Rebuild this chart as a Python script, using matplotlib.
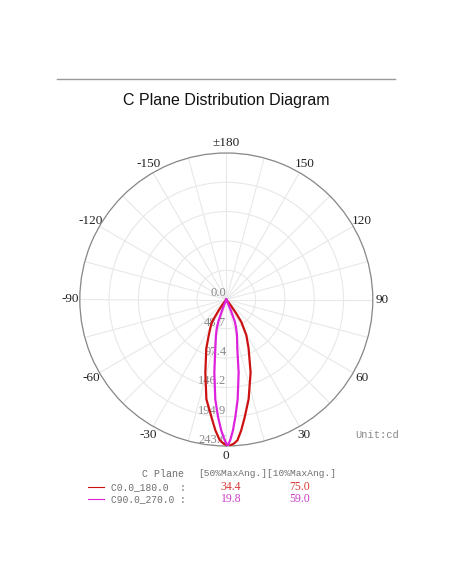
#C plane distribution diagram, polar plot
import numpy as np
import matplotlib
matplotlib.use("Agg")
import matplotlib.pyplot as plt
from matplotlib.lines import Line2D

# gamma angles (deg) and intensities (cd)
gamma_c0 = [-90, -40, -37, -35, -32.6, -30, -26.2, -22.2, -16, -11.3, -7.2, -4.8, -2.7, -1,
            1, 3, 4.5, 6.5, 8.9, 12.6, 18.4, 24.6, 29.3, 33.8, 35.5, 37.5, 40, 90]
cd_c0 = [0, 0, 8, 22, 44, 52, 66, 88, 126.5, 169, 197, 218, 234, 240,
         243.6, 240, 235, 219, 198, 170, 128, 89, 68, 45, 28, 10, 0, 0]

gamma_c90 = [-90, -24, -22, -21, -20, -18, -16.1, -12.7, -9.3, -6.3, -4, -2.2, -0.65,
             0.5, 1.6, 2.9, 4.4, 6.5, 9.6, 12.7, 16.7, 19, 21, 22.4, 23.5, 26, 90]
cd_c90 = [0, 0, 8, 20, 38, 52, 62, 83, 123, 167, 196, 218, 234,
          243.6, 234, 218, 196, 167, 123, 83, 62, 50, 40, 20, 8, 0, 0]

r_ticks = [48.7, 97.4, 146.2, 194.9, 243.6]
r_labels = ["0.0", "48.7", "97.4", "146.2", "194.9", "243.6"]
ang_ticks = [0, 30, 60, 90, 120, 150, 180, 210, 240, 270, 300, 330]
ang_labels = ["0", "30", "60", "90", "120", "150", "\u00b1180", "-150", "-120", "-90", "-60", "-30"]

planes = ["C0.0_180.0  :", "C90.0_270.0 :"]
ang50 = ["34.4", "19.8"]
ang10 = ["75.0", "59.0"]
line_cols = ["#cc1111", "#dd22dd"]
text_cols = ["#d83838", "#c83cc8"]

W, H = 452, 584
fig = plt.figure(figsize=(W / 100, H / 100), dpi=100)
fig.patch.set_facecolor("white")

def fx(x):
    return x / W

def fy(y):
    return 1 - y / H

# top rule and title
fig.add_artist(Line2D([fx(57), fx(395)], [fy(79), fy(79)], color="#999999", lw=1))
fig.text(fx(226), fy(100), "C Plane Distribution Diagram", ha="center", va="center",
         fontsize=11.5, family="Liberation Sans", color="#111111")

cx, cy, R = 226.3, 299.5, 146.5
ax = fig.add_axes([fx(cx - R), fy(cy + R), 2 * R / W, 2 * R / H], projection="polar")
ax.set_theta_zero_location("S")
ax.set_theta_direction(1)
ax.set_ylim(0, 243.6)

# spokes every 15 deg, labels every 30
spokes = list(range(0, 360, 15))
lab = []
for s in spokes:
    if s in ang_ticks:
        lab.append(ang_labels[ang_ticks.index(s)])
    else:
        lab.append("")
ax.set_xticks(np.radians(spokes))
ax.set_xticklabels(lab, family="Liberation Serif", fontsize=9.5, color="#222222")
ax.tick_params(axis="x", pad=0, length=0)
ax.set_yticks(r_ticks)
ax.set_yticklabels([])
ax.grid(color="#e8e8e8", lw=0.8)
ax.spines["polar"].set_color("#888888")
ax.spines["polar"].set_linewidth(0.9)

# radial value labels along the 0 direction
for i, t in enumerate(r_labels):
    r = 0 if i == 0 else r_ticks[i - 1]
    ax.text(0, r, t, ha="right", va="bottom", fontsize=9, family="Liberation Serif",
            color="#888888", zorder=2)

ax.plot(np.radians(gamma_c0), cd_c0, color=line_cols[0], lw=1.6, zorder=4)
ax.plot(np.radians(gamma_c90), cd_c90, color=line_cols[1], lw=1.6, zorder=5)

fig.text(fx(355), fy(435), "Unit:cd", ha="left", va="center", fontsize=7.5,
         family="Liberation Mono", color="#888888")

# legend table below
mono = "Liberation Mono"
fig.text(fx(142), fy(474), "C Plane", ha="left", va="center", fontsize=7.2, family=mono, color="#6e6e6e")
fig.text(fx(198), fy(474), "[50%MaxAng.][10%MaxAng.]", ha="left", va="center", fontsize=6.8,
         family=mono, color="#6e6e6e")
rows_y = [487, 499]
for i in range(2):
    y = rows_y[i]
    fig.add_artist(Line2D([fx(88), fx(104)], [fy(y), fy(y)], color=line_cols[i], lw=0.8))
    fig.text(fx(111), fy(y), planes[i], ha="left", va="center", fontsize=6.9, family=mono, color="#6e6e6e")
    fig.text(fx(231), fy(y), ang50[i], ha="center", va="center", fontsize=8.5, family="Liberation Serif",
             color=text_cols[i])
    fig.text(fx(300), fy(y), ang10[i], ha="center", va="center", fontsize=8.5, family="Liberation Serif",
             color=text_cols[i])

fig.savefig("out.png", dpi=100)
